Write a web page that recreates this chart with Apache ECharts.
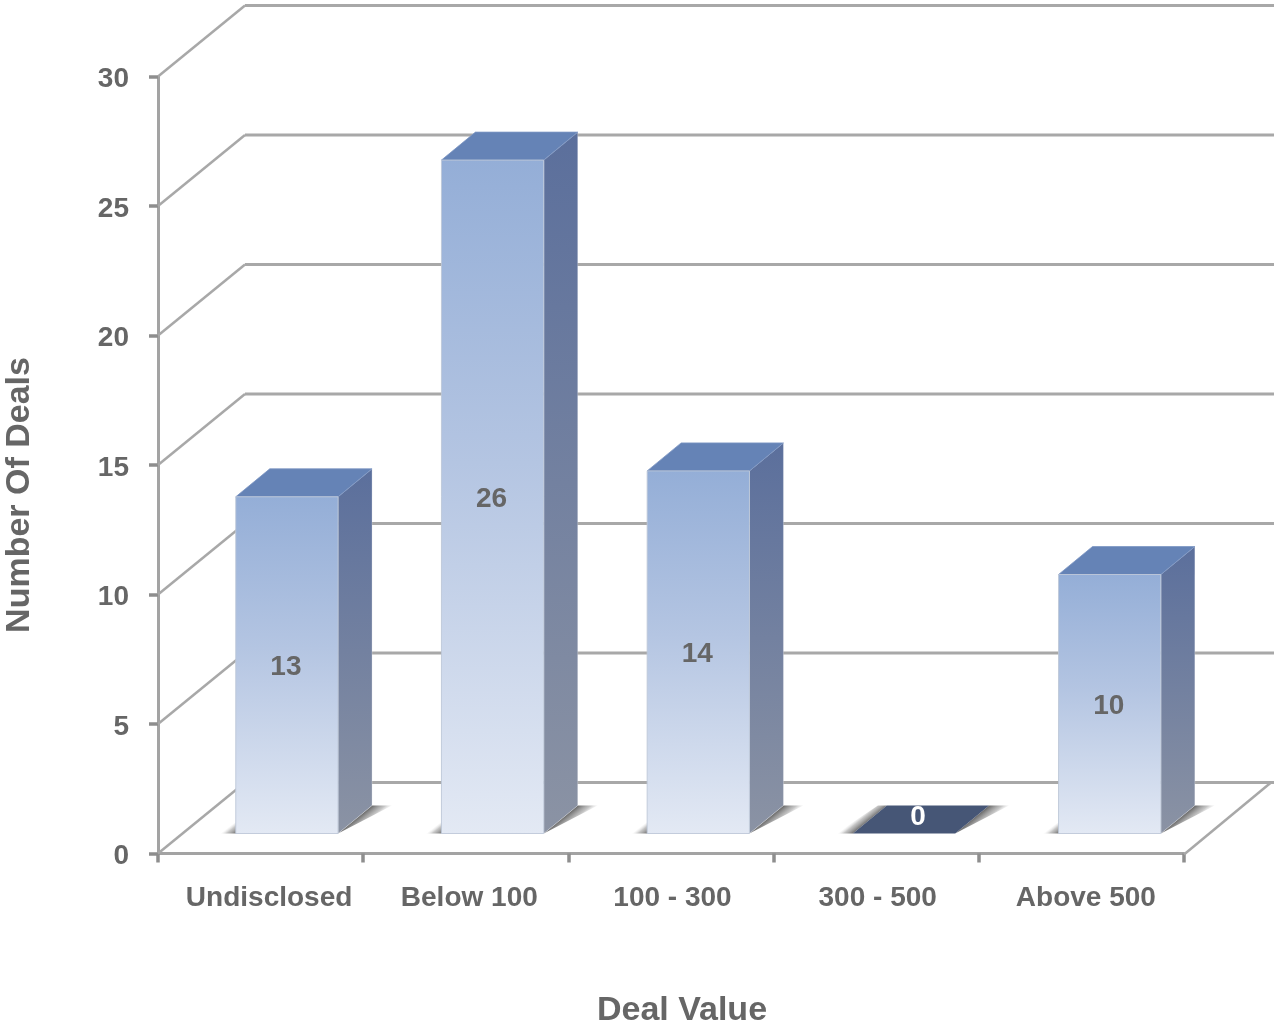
<!DOCTYPE html>
<html>
<head>
<meta charset="utf-8">
<style>html,body{margin:0;padding:0;background:#fff;overflow:hidden}#c{width:1274px;height:1023px}</style>
<script src="https://cdn.jsdelivr.net/npm/echarts@6/dist/echarts.min.js"></script>
</head>
<body>
<div id="c"></div>
<script>
const categories = ['Undisclosed', 'Below 100', '100 - 300', '300 - 500', 'Above 500'];
const values = [13, 26, 14, 0, 10];
const ticks = [0, 5, 10, 15, 20, 25, 30];
const labelShift = [17, 7, 3, 3, 9];

const FONT = '"Liberation Sans", Arial, sans-serif';
const TXT = '#666666';
const WALL = '#a8a8a8';
const AXIS = '#a3a3a3';
const BACK = [87, -71], NEAR = [26.3, -20], FAR = [60.3, -48];
const BAR_W = 102.3, DRIFT = 0.5;

const chart = echarts.init(document.getElementById('c'), null, {renderer: 'canvas'});

function poly(points, style) {
  return {type: 'polygon', shape: {points}, style};
}
function vgrad(a, b) {
  return new echarts.graphic.LinearGradient(0, 0, 0, 1, [{offset: 0, color: a}, {offset: 1, color: b}]);
}
function fade(x, y, nx, ny) {
  return new echarts.graphic.LinearGradient(x, y, x + nx, y + ny, [
    {offset: 0, color: 'rgba(95,95,95,0.9)'},
    {offset: 0.6, color: 'rgba(140,140,140,0.5)'},
    {offset: 1, color: 'rgba(200,200,200,0)'}
  ], true);
}

function renderWall(params, api) {
  const p = api.coord([0, api.value(0)]);
  const band = api.size([1, 0])[0];
  const x0 = p[0] - band / 2;
  const y = p[1];
  const right = x0 + band * categories.length + BACK[0];
  const children = [{
    type: 'polyline',
    shape: {points: [[x0, y], [x0 + BACK[0], y + BACK[1]]]},
    style: {stroke: WALL, lineWidth: 2.5, fill: null}
  }, {
    type: 'line',
    shape: {x1: x0 + BACK[0], y1: y + BACK[1], x2: right + 4, y2: y + BACK[1]},
    style: {stroke: WALL, lineWidth: 3}
  }];
  if (api.value(0) === 0) {
    children.push({
      type: 'line',
      shape: {x1: right - BACK[0], y1: y + 1, x2: right, y2: y + BACK[1]},
      style: {stroke: WALL, lineWidth: 2.5}
    });
  }
  return {type: 'group', children};
}

function renderBar(params, api) {
  const i = api.value(0), v = api.value(1);
  const base = api.coord([i, 0]);
  const top = api.coord([i, v]);
  const l = base[0] + NEAR[0] + DRIFT * i - BAR_W / 2, r = l + BAR_W;
  const yb = base[1] + NEAR[1], yt = top[1] + NEAR[1];
  const dx = FAR[0] - NEAR[0], dy = FAR[1] - NEAR[1];
  const kids = [];
  kids.push(poly([[l - 17, yb], [l, yb], [l + dx, yb + dy], [l + dx - 9, yb + dy]],
    {fill: fade(l, yb, -6, -7.5)}));
  kids.push(poly([[r, yb], [r + dx, yb + dy], [r + dx + 20, yb + dy]],
    {fill: fade(r, yb, 8, 10)}));
  if (v === 0) {
    kids.push(poly([[l, yb], [r, yb], [r + dx, yb + dy], [l + dx, yb + dy]], {fill: '#465676'}));
    kids.push({
      type: 'text',
      style: {
        x: (l + r + dx) / 2 - 3, y: yb + dy / 2 - 2, text: String(v), fill: '#ffffff',
        font: 'bold 28px ' + FONT, textAlign: 'center', textVerticalAlign: 'middle'
      }
    });
  } else {
    kids.push(poly([[r, yt], [r + dx, yt + dy], [r + dx, yb + dy], [r, yb]], {
      fill: vgrad('#5b6f9c', '#8b93a4'), stroke: 'rgba(255,255,255,0.25)', lineWidth: 1
    }));
    kids.push(poly([[l, yt], [r, yt], [r + dx, yt + dy], [l + dx, yt + dy]], {
      fill: '#6583b6', stroke: 'rgba(125,150,195,0.8)', lineWidth: 1
    }));
    kids.push({
      type: 'rect',
      shape: {x: l, y: yt, width: r - l, height: yb - yt},
      style: {
        fill: new echarts.graphic.LinearGradient(0, 0, 0, 1, [
          {offset: 0, color: '#94aed7'}, {offset: 0.45, color: '#b4c5e2'}, {offset: 1, color: '#e3e9f4'}
        ]),
        stroke: 'rgba(190,200,216,0.9)', lineWidth: 1
      }
    });
    kids.push({
      type: 'text',
      style: {
        x: (l + r) / 2 - 1, y: (yt + yb) / 2 + 2, text: String(v), fill: TXT,
        font: 'bold 28px ' + FONT, textAlign: 'center', textVerticalAlign: 'middle'
      }
    });
  }
  return {type: 'group', children: kids};
}

chart.setOption({
  animation: false,
  backgroundColor: '#ffffff',
  grid: {left: 158, top: 76.5, width: 1026, height: 777, containLabel: false, outerBoundsMode: 'none'},
  xAxis: {
    type: 'category',
    data: categories.map((c, i) => ({
      value: c,
      textStyle: {padding: [0, 0, 0, labelShift[i]]}
    })),
    axisLine: {show: true, lineStyle: {color: AXIS, width: 3}},
    axisTick: {show: true, alignWithLabel: false, length: 9, lineStyle: {color: '#8e8e8e', width: 3.5}},
    axisLabel: {color: TXT, fontFamily: FONT, fontWeight: 'bold', fontSize: 28, margin: 31, interval: 0},
    name: 'Deal Value',
    nameLocation: 'middle',
    nameGap: 140,
    nameTextStyle: {color: TXT, fontFamily: FONT, fontWeight: 'bold', fontSize: 34, padding: [0, 0, 0, 22]},
    splitLine: {show: false}
  },
  yAxis: {
    type: 'value',
    min: 0, max: 30, interval: 5,
    axisLine: {show: true, lineStyle: {color: AXIS, width: 3}},
    axisTick: {show: true, length: 9, lineStyle: {color: '#8e8e8e', width: 3.5}},
    axisLabel: {
      color: TXT, margin: 29,
      formatter: v => '{t|' + v + '}',
      rich: {t: {color: TXT, fontFamily: FONT, fontWeight: 'bold', fontSize: 28, padding: [6, 0, 0, 0]}}
    },
    name: 'Number Of Deals',
    nameLocation: 'middle',
    nameGap: 121,
    nameTextStyle: {color: TXT, fontFamily: FONT, fontWeight: 'bold', fontSize: 34, padding: [0, 60, 0, 0]},
    splitLine: {show: false}
  },
  series: [{
    type: 'custom', z: 1, clip: false, silent: true,
    coordinateSystem: 'cartesian2d',
    renderItem: renderWall,
    data: ticks.map(t => [t, t]),
    encode: {x: 1, y: 0}
  }, {
    type: 'custom', z: 5, clip: false, silent: true,
    coordinateSystem: 'cartesian2d',
    renderItem: renderBar,
    data: values.map((v, i) => [i, v]),
    encode: {x: 0, y: 1}
  }]
});
</script>
</body>
</html>
